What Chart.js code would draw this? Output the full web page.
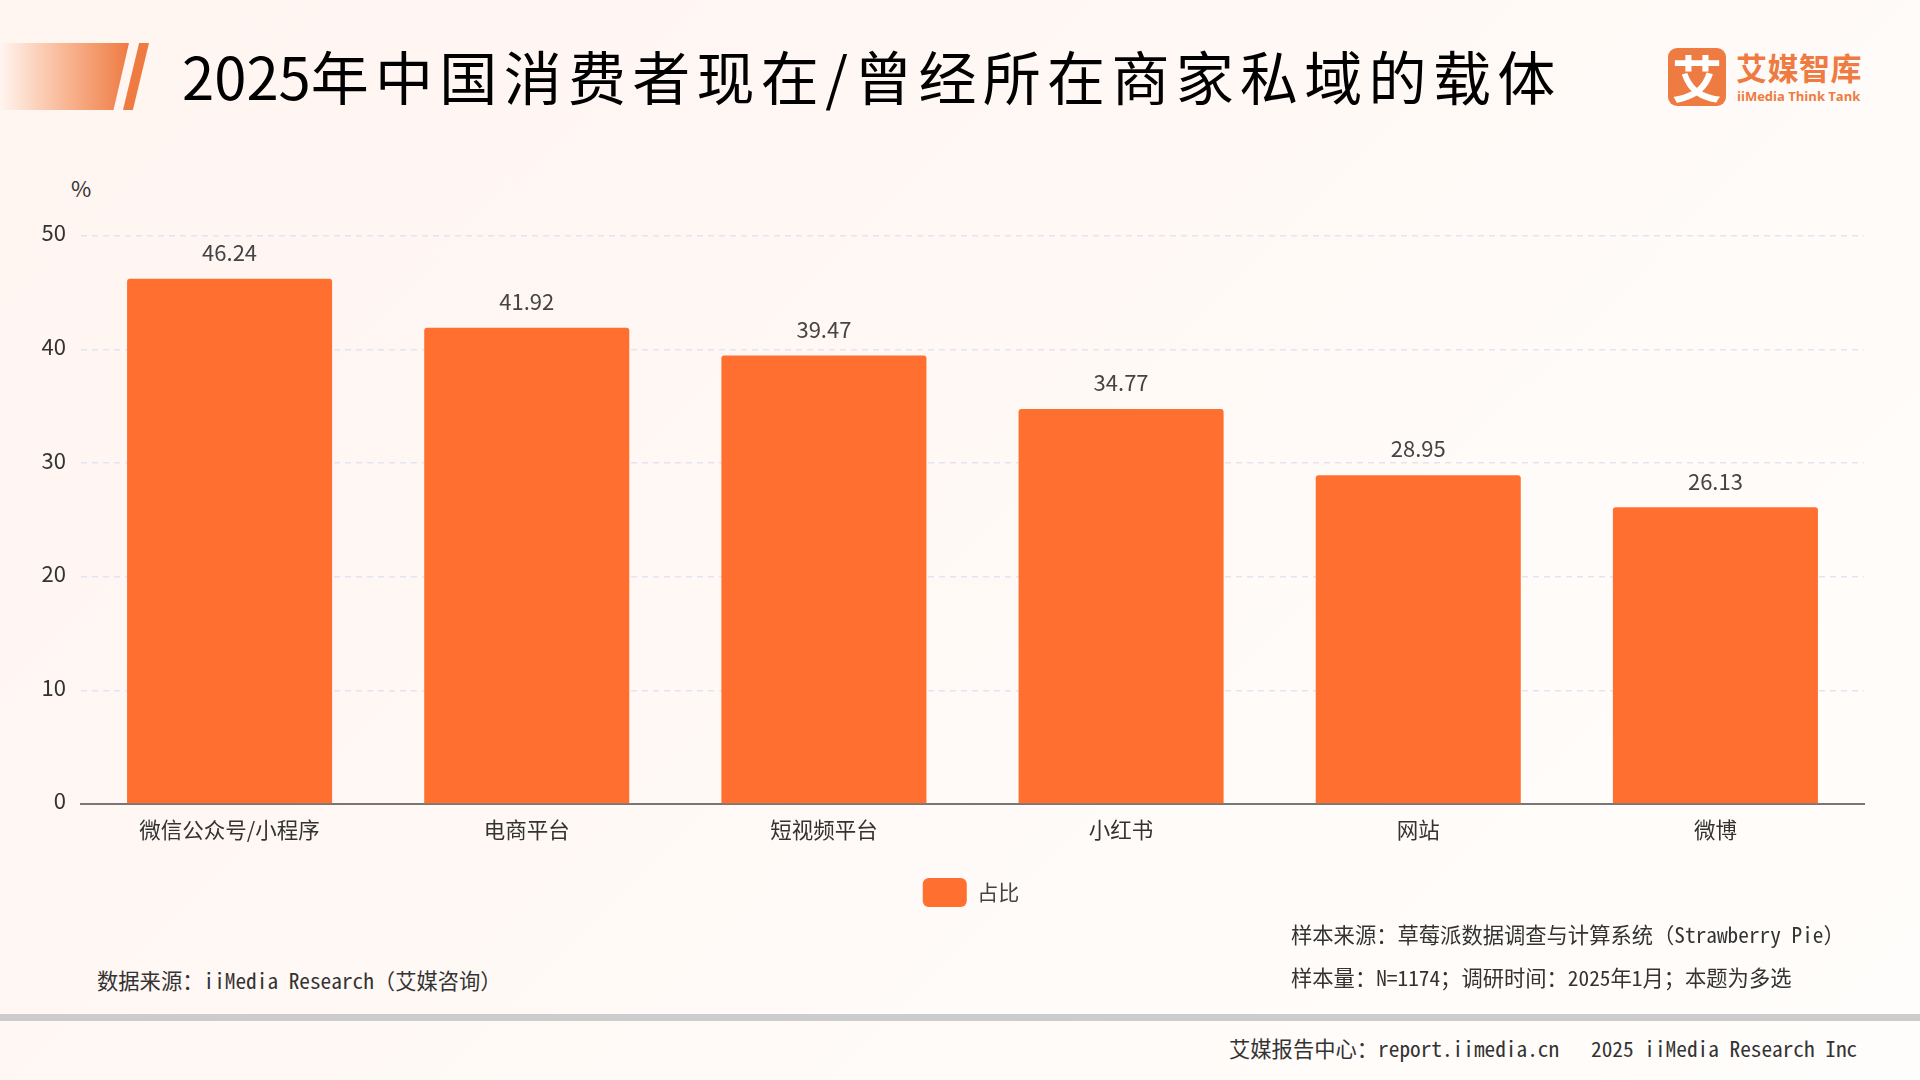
<!DOCTYPE html>
<html lang="zh">
<head>
<meta charset="utf-8">
<title>2025年中国消费者现在/曾经所在商家私域的载体</title>
<script src="https://cdn.jsdelivr.net/npm/chart.js@4"></script>
<style>
    html, body { margin: 0; padding: 0; }
    body {
        width: 1920px; height: 1080px; position: relative; overflow: hidden;
        background: linear-gradient(135deg, #fff5f1 0%, #fff7f4 35%, #fffbf8 65%, #fffdfb 100%);
        font-family: "Noto Sans CJK SC", "Noto Sans", sans-serif;
    }
    #chart-box { position: absolute; left: 0; top: 0; width: 1920px; height: 925px; }
    .abs { position: absolute; white-space: nowrap; }
    #banner {
        left: 0; top: 43px; width: 129px; height: 67px;
        background: linear-gradient(90deg, #fff5f0 0%, #f9b795 50%, #ee7b42 100%);
        clip-path: polygon(0 0, 100% 0, 88% 100%, 0 100%);
    }
    #banner2 {
        left: 123px; top: 43px; width: 26px; height: 67px;
        background: #ee7b42;
        clip-path: polygon(62% 0, 100% 0, 38% 100%, 0 100%);
    }
    #title { left: 182px; top: 33px; font-size: 58px; line-height: 84px; letter-spacing: 6.3px; color: #000; }
    #title span { letter-spacing: 0; }
    #logo-mark {
        left: 1668px; top: 48px; width: 58px; height: 58px; border-radius: 9px;
        background: #ee7b42; color: #fff; font-size: 50px; font-weight: 700;
        line-height: 56px; text-align: center;
    }
    #logo-cn { left: 1736px; top: 46px; font-size: 31px; line-height: 42px; font-weight: 700; color: #ee7b42; letter-spacing: 0.5px; }
    #logo-en { left: 1737px; top: 87px; font-family: "Open Sans", sans-serif; font-size: 13px; line-height: 18px; font-weight: 700; color: #ee7b42; }
    #unit { left: 71px; top: 173px; font-size: 22px; line-height: 28px; color: #333; }
    .note { font-family: "Noto Sans Mono CJK SC", "Liberation Mono", "Noto Sans CJK SC", monospace; font-size: 21.3px; line-height: 28px; color: #333; }
    #rule { left: 0; top: 1014px; width: 1920px; height: 7px; background: #cccccc; }
</style>
</head>
<body>
<div class="abs" id="banner"></div>
<div class="abs" id="banner2"></div>
<div class="abs" id="title"><span>2025</span>年中国消费者现在/曾经所在商家私域的载体</div>
<div class="abs" id="logo-mark">艾</div>
<div class="abs" id="logo-cn">艾媒智库</div>
<div class="abs" id="logo-en">iiMedia Think Tank</div>
<div class="abs" id="unit">%</div>
<div id="chart-box"><canvas id="share-chart" width="1920" height="925"></canvas></div>
<div class="abs note" style="left:97px;top:966px;">数据来源：iiMedia Research（艾媒咨询）</div>
<div class="abs note" style="left:1291px;top:920px;">样本来源：草莓派数据调查与计算系统（Strawberry Pie）</div>
<div class="abs note" style="left:1291px;top:963px;">样本量：N=1174；调研时间：2025年1月；本题为多选</div>
<div class="abs" id="rule"></div>
<div class="abs note" style="left:1229px;top:1034px;">艾媒报告中心：report.iimedia.cn&nbsp;&nbsp;&nbsp;2025 iiMedia Research Inc</div>

<script>
const categories = ["微信公众号/小程序", "电商平台", "短视频平台", "小红书", "网站", "微博"];
const shareValues = [46.24, 41.92, 39.47, 34.77, 28.95, 26.13];
const yTicks = [0, 10, 20, 30, 40, 50];
const seriesName = "占比";

const ORANGE = "#ff6f2f";
const FONT = '"Noto Sans CJK SC", "Noto Sans", sans-serif';

// value labels above each bar
const valueLabels = {
    id: "valueLabels",
    afterDatasetsDraw(chart) {
        const { ctx } = chart;
        ctx.save();
        ctx.font = "22px " + FONT;
        ctx.fillStyle = "#444";
        ctx.textAlign = "center";
        ctx.textBaseline = "middle";
        chart.getDatasetMeta(0).data.forEach((bar, i) => {
            ctx.fillText(shareValues[i].toFixed(2), bar.x, bar.y - 26);
        });
        ctx.restore();
    }
};

// the legend sits centred under the whole page, not under the padded chart box
const legendShift = {
    id: "legendShift",
    afterLayout(chart) {
        chart.legend.left += 39;
        chart.legend.right += 39;
    }
};

new Chart(document.getElementById("share-chart"), {
    type: "bar",
    data: {
        labels: categories,
        datasets: [{
            label: seriesName,
            data: shareValues,
            backgroundColor: ORANGE,
            borderRadius: { topLeft: 3, topRight: 3 },
            borderSkipped: "bottom",
            categoryPercentage: 0.69,
            barPercentage: 1
        }]
    },
    options: {
        responsive: false,
        devicePixelRatio: 1,
        animation: false,
        layout: { padding: { top: 236, right: 56, left: 0, bottom: 8 } },
        plugins: {
            tooltip: { enabled: false },
            legend: {
                position: "bottom",
                labels: {
                    boxWidth: 44,
                    boxHeight: 29,
                    useBorderRadius: true,
                    borderRadius: 6,
                    padding: 8,
                    color: "#444",
                    font: { family: FONT, size: 21 }
                }
            }
        },
        scales: {
            x: {
                afterFit: (scale) => { scale.height = 66; },
                grid: { display: false },
                border: { color: "#777", width: 2 },
                ticks: { color: "#333", padding: 5, font: { family: FONT, size: 21.5 } }
            },
            y: {
                min: 0,
                max: 50,
                afterFit: (scale) => { scale.width = 81; },
                afterBuildTicks: (scale) => { scale.ticks = yTicks.map((v) => ({ value: v })); },
                grid: { color: "#e2e5f1", lineWidth: 1.5, tickLength: 0, drawTicks: false },
                border: { display: false, dash: [6, 5] },
                ticks: {
                    color: "#333",
                    padding: 15,
                    // second empty line lifts the label a little above its grid line
                    callback: (v) => [String(v), ""],
                    font: { family: FONT, size: 22, lineHeight: "6px" }
                }
            }
        }
    },
    plugins: [valueLabels, legendShift]
});
</script>
</body>
</html>
